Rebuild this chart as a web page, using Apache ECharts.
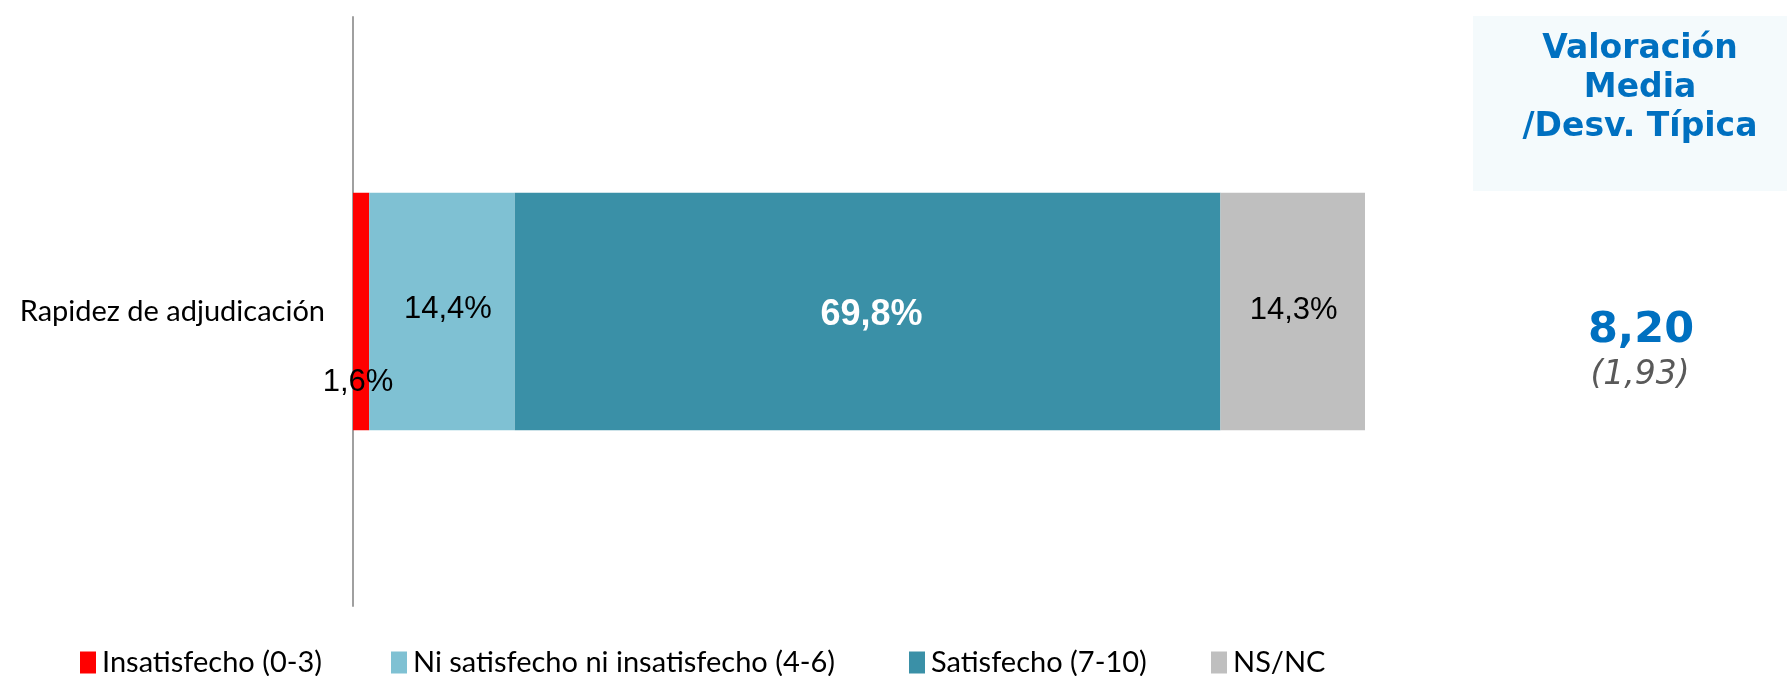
<!DOCTYPE html>
<html>
<head>
<meta charset="utf-8">
<script src="https://cdn.jsdelivr.net/npm/echarts@6/dist/echarts.min.js"></script>
<style>
html,body{margin:0;padding:0;background:#fff;}
#main{width:1787px;height:676px;}
</style>
</head>
<body>
<div id="main"></div>
<script>
const categories = ['Rapidez de adjudicación'];
const seriesNames = ['Insatisfecho (0-3)', 'Ni satisfecho ni insatisfecho (4-6)', 'Satisfecho (7-10)', 'NS/NC'];
const insatisfecho = [1.6];
const niSatisfecho = [14.4];
const satisfecho = [69.8];
const nsnc = [14.3];
const valoracionMedia = ['8,20'];
const desvTipica = ['(1,93)'];
const panelTitle = ['Valoración', 'Media', '/Desv. Típica'];

const colors = ['#FF0000', '#7FC1D3', '#3A90A7', '#BFBFBF'];
const values = [insatisfecho, niSatisfecho, satisfecho, nsnc];
const total = values.reduce((s, a) => s + a[0], 0);

const fmt = p => p.value.toFixed(1).replace('.', ',') + '%';

const labelStyles = [
  {show: true, position: 'inside', offset: [-3, 71], color: '#000', fontFamily: 'Liberation Sans', fontSize: 31, formatter: fmt},
  {show: true, position: 'inside', offset: [6, -2], color: '#000', fontFamily: 'Liberation Sans', fontSize: 31, formatter: fmt},
  {show: true, position: 'inside', offset: [4, 4], color: '#fff', fontWeight: 'bold', fontFamily: 'Liberation Sans', fontSize: 36, formatter: fmt},
  {show: true, position: 'inside', offset: [1, -1], color: '#000', fontFamily: 'Liberation Sans', fontSize: 31, formatter: fmt}
];

const legendLefts = [80, 391, 909, 1211];

const chart = echarts.init(document.getElementById('main'));
chart.setOption({
  animation: false,
  color: colors,
  grid: {left: 353, right: 422, top: 17, bottom: 70},
  xAxis: {type: 'value', min: 0, max: total, show: false, splitLine: {show: false}},
  yAxis: {
    type: 'category',
    data: categories,
    axisLine: {show: true, lineStyle: {color: '#A0A0A0', width: 2}},
    axisTick: {show: false},
    axisLabel: {color: '#000', fontFamily: 'Lato', fontSize: 29, margin: 28}
  },
  legend: seriesNames.map((n, i) => ({
    data: [n],
    left: legendLefts[i],
    top: 648,
    padding: 0,
    itemWidth: 16,
    itemHeight: 22,
    itemGap: 6,
    icon: 'rect',
    textStyle: {color: '#000', fontFamily: 'Lato', fontSize: 29, padding: [0, 0, 0, 1]}
  })),
  series: seriesNames.map((n, i) => ({
    name: n,
    type: 'bar',
    stack: 'total',
    barWidth: '40.3%',
    data: values[i],
    label: labelStyles[i],
    itemStyle: {color: colors[i]}
  })),
  graphic: [
    {type: 'rect', shape: {x: 1473, y: 16, width: 314, height: 175}, style: {fill: '#F4FAFC'}, z: -1},
    {type: 'text', x: 1640, y: 30, style: {text: panelTitle.join('\n'), fill: '#0070C0', font: 'bold 33px "DejaVu Sans"', textAlign: 'center', lineHeight: 39}},
    {type: 'text', x: 1641, y: 331, style: {text: valoracionMedia[0], fill: '#0070C0', font: 'bold 43px "DejaVu Sans"', textAlign: 'center', textVerticalAlign: 'middle'}},
    {type: 'text', x: 1640, y: 375, style: {text: desvTipica[0], fill: '#595959', font: 'italic 33px "DejaVu Sans"', textAlign: 'center', textVerticalAlign: 'middle'}}
  ]
});
</script>
</body>
</html>
